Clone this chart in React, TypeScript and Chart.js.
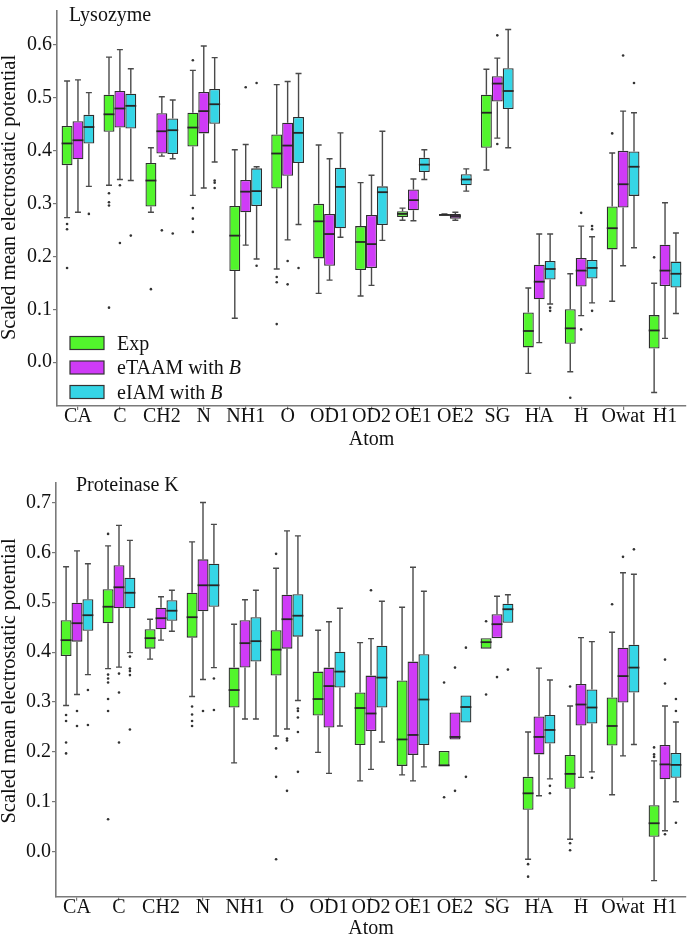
import { useEffect, useRef } from 'react';
import { Chart, registerables } from 'chart.js';

Chart.register(...registerables);

const atoms = ['CA', 'C', 'CH2', 'N', 'NH1', 'O', 'OD1', 'OD2', 'OE1', 'OE2', 'SG', 'HA', 'H', 'Owat', 'H1'];
const seriesNames = ['Exp', 'eTAAM with ', 'eIAM with '];
const fills = ['#52f52c', '#cf3bf7', '#35d5e6'];

// each box: [lower whisker, Q1, median, Q3, upper whisker]
const lysoExp = [
  [0.273, 0.372, 0.413, 0.446, 0.531], [0.334, 0.435, 0.468, 0.505, 0.576], [0.283, 0.294, 0.343, 0.376, 0.405],
  [0.315, 0.407, 0.443, 0.471, 0.551], [0.083, 0.172, 0.239, 0.295, 0.401], [0.176, 0.328, 0.394, 0.43, 0.524],
  [0.13, 0.196, 0.266, 0.299, 0.41], [0.125, 0.174, 0.227, 0.257, 0.339], [0.268, 0.274, 0.28, 0.285, 0.291],
  [0.277, 0.277, 0.278, 0.279, 0.28], [0.363, 0.405, 0.471, 0.505, 0.553], [-0.021, 0.028, 0.059, 0.094, 0.14],
  [-0.018, 0.035, 0.064, 0.1, 0.167], [0.115, 0.213, 0.253, 0.294, 0.395], [-0.057, 0.026, 0.06, 0.089, 0.149],
];
const lysoTaam = [
  [0.283, 0.383, 0.419, 0.455, 0.533], [0.345, 0.443, 0.479, 0.512, 0.59], [0.389, 0.394, 0.436, 0.47, 0.501],
  [0.329, 0.432, 0.474, 0.51, 0.597], [0.221, 0.283, 0.322, 0.344, 0.411], [0.231, 0.352, 0.409, 0.452, 0.53],
  [0.155, 0.182, 0.242, 0.28, 0.384], [0.145, 0.178, 0.223, 0.278, 0.353], [0.267, 0.287, 0.306, 0.326, 0.346],
  [0.268, 0.271, 0.276, 0.28, 0.283], [0.423, 0.492, 0.526, 0.54, 0.574], [0.037, 0.119, 0.152, 0.184, 0.242],
  [0.088, 0.143, 0.173, 0.197, 0.257], [0.182, 0.292, 0.336, 0.399, 0.474], [0.045, 0.144, 0.173, 0.222, 0.301],
];
const lysoIam = [
  [0.332, 0.413, 0.444, 0.467, 0.509], [0.343, 0.441, 0.484, 0.507, 0.554], [0.384, 0.393, 0.438, 0.46, 0.495],
  [0.378, 0.45, 0.487, 0.516, 0.575], [0.195, 0.295, 0.323, 0.366, 0.369], [0.26, 0.376, 0.433, 0.463, 0.545],
  [0.236, 0.253, 0.331, 0.367, 0.433], [0.23, 0.259, 0.321, 0.332, 0.436], [0.345, 0.359, 0.373, 0.386, 0.401],
  [0.323, 0.334, 0.345, 0.355, 0.365], [0.405, 0.478, 0.512, 0.555, 0.628], [0.11, 0.156, 0.176, 0.191, 0.242],
  [0.112, 0.158, 0.178, 0.193, 0.237], [0.216, 0.314, 0.369, 0.398, 0.471], [0.092, 0.141, 0.167, 0.19, 0.244],
];
const lysoExpOut = [
  [0.261, 0.251, 0.178], [0.319, 0.302, 0.296, 0.103], [0.138], [0.57, 0.291, 0.271, 0.246], [], [0.161, 0.151, 0.072],
  [], [], [], [], [], [], [-0.067], [0.432], [0.198],
];
const lysoTaamOut = [
  [], [0.334, 0.225], [0.249], [], [0.519], [0.191, 0.147], [], [], [], [], [0.617, 0.412], [], [0.282, 0.062], [0.579], [],
];
const lysoIamOut = [
  [0.28], [0.239], [0.243], [0.343, 0.339, 0.329], [0.527, 0.182], [0.178], [], [], [], [], [], [0.103, 0.097],
  [0.257, 0.251, 0.097], [0.527], [],
];

const protExp = [
  [0.293, 0.392, 0.424, 0.464, 0.571], [0.367, 0.458, 0.491, 0.526, 0.613], [0.386, 0.407, 0.428, 0.446, 0.466],
  [0.311, 0.429, 0.47, 0.519, 0.621], [0.178, 0.289, 0.324, 0.369, 0.456], [0.232, 0.353, 0.405, 0.444, 0.568],
  [0.199, 0.273, 0.306, 0.361, 0.444], [0.142, 0.214, 0.288, 0.319, 0.419], [0.154, 0.172, 0.225, 0.343, 0.49],
  [0.172, 0.172, 0.173, 0.202, 0.202], [0.407, 0.407, 0.42, 0.428, 0.428], [-0.015, 0.084, 0.117, 0.15, 0.24],
  [0.025, 0.126, 0.156, 0.194, 0.292], [0.114, 0.213, 0.252, 0.309, 0.44], [-0.058, 0.03, 0.057, 0.093, 0.182],
];
const protTaam = [
  [0.315, 0.421, 0.458, 0.499, 0.603], [0.37, 0.488, 0.53, 0.574, 0.654], [0.424, 0.446, 0.468, 0.489, 0.511],
  [0.345, 0.482, 0.534, 0.586, 0.7], [0.266, 0.369, 0.418, 0.464, 0.505], [0.246, 0.407, 0.466, 0.515, 0.643],
  [0.157, 0.249, 0.332, 0.369, 0.461], [0.165, 0.242, 0.277, 0.353, 0.427], [0.142, 0.194, 0.234, 0.381, 0.57],
  [0.225, 0.225, 0.23, 0.279, 0.279], [0.428, 0.428, 0.456, 0.476, 0.512], [0.112, 0.195, 0.23, 0.271, 0.368],
  [0.149, 0.253, 0.295, 0.336, 0.429], [0.192, 0.299, 0.352, 0.409, 0.559], [0.042, 0.145, 0.175, 0.214, 0.292],
];
const protIam = [
  [0.355, 0.443, 0.474, 0.506, 0.577], [0.399, 0.488, 0.519, 0.549, 0.624], [0.442, 0.463, 0.483, 0.504, 0.524],
  [0.369, 0.491, 0.534, 0.577, 0.656], [0.266, 0.381, 0.422, 0.47, 0.524], [0.303, 0.431, 0.473, 0.516, 0.633],
  [0.252, 0.329, 0.361, 0.401, 0.488], [0.22, 0.289, 0.349, 0.413, 0.502], [0.17, 0.214, 0.305, 0.396, 0.522],
  [0.259, 0.259, 0.29, 0.313, 0.313], [0.459, 0.459, 0.486, 0.497, 0.515], [0.146, 0.217, 0.244, 0.274, 0.344],
  [0.16, 0.257, 0.289, 0.325, 0.421], [0.215, 0.319, 0.369, 0.415, 0.556], [0.1, 0.148, 0.174, 0.198, 0.26],
];
const protExpOut = [
  [0.274, 0.262, 0.219, 0.197], [0.637, 0.355, 0.347, 0.339, 0.306, 0.282, 0.065], [], [0.291, 0.275, 0.262, 0.252], [],
  [0.597, 0.207, 0.15, -0.015], [], [], [], [0.339, 0.109], [0.462, 0.315], [-0.025, -0.05], [0.331, 0.017, 0.003],
  [0.496], [0.209, 0.195, 0.19],
];
const protTaamOut = [
  [0.282, 0.252], [0.357, 0.319, 0.219], [], [0.282], [], [0.227, 0.223, 0.122], [], [0.524], [], [0.369, 0.122],
  [0.35], [], [], [0.591], [0.385, 0.337, 0.035],
];
const protIamOut = [
  [0.324, 0.254], [0.391, 0.367, 0.362, 0.354, 0.245], [], [0.347, 0.284], [], [0.287, 0.282, 0.269, 0.24, 0.16],
  [], [], [], [0.409, 0.15], [0.365], [0.132, 0.117], [0.148], [0.606], [0.306, 0.282, 0.058],
];

const FONT = "'Liberation Serif', 'Times New Roman', serif";
const Y_TITLE = 'Scaled mean electrostatic potential';

type PanelProps = {
  title: string;
  titleX: number;
  titleY: number;
  yTitleCenter: number;
  boxes: number[][][];
  outliers: number[][][];
  yMin: number;
  yMax: number;
  height: number;
  areaTop: number;
  areaBottom: number;
  axisLeft: number;
  xTitlePad: number;
  legend: boolean;
};

function Panel(p: PanelProps) {
  const canvasRef = useRef<HTMLCanvasElement>(null);

  useEffect(() => {
    if (!canvasRef.current) return;

    const boxPlugin = {
      id: 'boxes',
      beforeDatasetsDraw(chart: any) {
        const ctx = chart.ctx;
        const ys = chart.scales.y;
        ctx.save();
        ctx.strokeStyle = '#4a4a4a';
        ctx.lineWidth = 1.4;
        p.boxes.forEach((series, si) => {
          const meta = chart.getDatasetMeta(si);
          series.forEach((b, i) => {
            const x = meta.data[i].x;
            const [lo, q1, , q3, hi] = b;
            ctx.beginPath();
            if (hi > q3) {
              ctx.moveTo(x, ys.getPixelForValue(q3));
              ctx.lineTo(x, ys.getPixelForValue(hi));
              ctx.moveTo(x - 3, ys.getPixelForValue(hi));
              ctx.lineTo(x + 3, ys.getPixelForValue(hi));
            }
            if (lo < q1) {
              ctx.moveTo(x, ys.getPixelForValue(q1));
              ctx.lineTo(x, ys.getPixelForValue(lo));
              ctx.moveTo(x - 3, ys.getPixelForValue(lo));
              ctx.lineTo(x + 3, ys.getPixelForValue(lo));
            }
            ctx.stroke();
          });
        });
        ctx.restore();
      },
      afterDatasetsDraw(chart: any) {
        const ctx = chart.ctx;
        const ys = chart.scales.y;
        ctx.save();
        p.boxes.forEach((series, si) => {
          const meta = chart.getDatasetMeta(si);
          series.forEach((b, i) => {
            const el = meta.data[i];
            const ym = ys.getPixelForValue(b[2]);
            ctx.strokeStyle = '#262626';
            ctx.lineWidth = 1.8;
            ctx.beginPath();
            ctx.moveTo(el.x - el.width / 2, ym);
            ctx.lineTo(el.x + el.width / 2, ym);
            ctx.stroke();
            ctx.fillStyle = '#333';
            p.outliers[si][i].forEach((v) => {
              ctx.beginPath();
              ctx.arc(el.x, ys.getPixelForValue(v), 1.3, 0, Math.PI * 2);
              ctx.fill();
            });
          });
        });

        ctx.fillStyle = '#111';
        ctx.font = `20px ${FONT}`;
        ctx.textBaseline = 'alphabetic';
        ctx.textAlign = 'left';
        ctx.fillText(p.title, p.titleX, p.titleY);

        // y axis title, rotated
        ctx.save();
        ctx.translate(10, p.yTitleCenter);
        ctx.rotate(-Math.PI / 2);
        ctx.textAlign = 'center';
        ctx.textBaseline = 'middle';
        ctx.font = `20.5px ${FONT}`;
        ctx.fillText(Y_TITLE, 0, 0);
        ctx.restore();

        if (p.legend) {
          seriesNames.forEach((name, i) => {
            const base = 349.5 + i * 24.5;
            ctx.fillStyle = fills[i];
            ctx.strokeStyle = '#333';
            ctx.lineWidth = 1.2;
            ctx.fillRect(70, base - 13, 34, 13);
            ctx.strokeRect(70, base - 13, 34, 13);
            ctx.fillStyle = '#111';
            ctx.font = `20px ${FONT}`;
            ctx.fillText(name, 117, base);
            if (i > 0) {
              const w = ctx.measureText(name).width;
              ctx.font = `italic 20px ${FONT}`;
              ctx.fillText('B', 117 + w, base);
            }
          });
        }
        ctx.restore();
      },
    };

    const chart = new Chart(canvasRef.current, {
      type: 'bar',
      data: {
        labels: atoms,
        datasets: p.boxes.map((series, si) => ({
          label: seriesNames[si],
          data: series.map((b) => [b[1], b[3]]),
          backgroundColor: fills[si],
          borderColor: '#2e2e2e',
          borderWidth: 1.3,
          borderSkipped: false,
          categoryPercentage: 0.78,
          barPercentage: 1,
        })) as any,
      },
      options: {
        animation: false,
        responsive: true,
        maintainAspectRatio: false,
        layout: { padding: { top: p.areaTop, right: 6, left: 0, bottom: 0 } },
        plugins: { legend: { display: false }, tooltip: { enabled: false } },
        scales: {
          x: {
            afterFit: (s: any) => {
              s.height = p.height - p.areaBottom;
            },
            grid: { display: true, drawOnChartArea: false, offset: false, tickLength: 4, color: '#777', lineWidth: 1.2 },
            border: { display: true, color: '#7a7a7a', width: 1.6 },
            ticks: {
              autoSkip: false,
              maxRotation: 0,
              minRotation: 0,
              padding: -3,
              color: '#111',
              font: { family: FONT, size: 20, lineHeight: 1 },
            },
            title: {
              display: true,
              text: 'Atom',
              color: '#111',
              font: { family: FONT, size: 20, lineHeight: 1 },
              padding: { top: 0, bottom: p.xTitlePad },
            },
          },
          y: {
            min: p.yMin,
            max: p.yMax,
            afterFit: (s: any) => {
              s.width = p.axisLeft;
            },
            grid: { display: true, drawOnChartArea: false, tickLength: 4, color: '#777', lineWidth: 1.2 },
            border: { display: true, color: '#7a7a7a', width: 1.6 },
            ticks: {
              stepSize: 0.1,
              includeBounds: false,
              padding: 1,
              color: '#111',
              font: { family: FONT, size: 20, lineHeight: 1 },
              callback: (v: any) => (Math.abs(Number(v)) < 1e-9 ? 0 : Number(v)).toFixed(1),
            },
          },
        },
      },
      plugins: [boxPlugin as any],
    });

    return () => {
      chart.destroy();
    };
  }, []);

  return <canvas ref={canvasRef} />;
}

export default function App() {
  return (
    <div style={{ position: 'absolute', left: 0, top: 0, width: 692, height: 939, background: '#fff' }}>
      <div style={{ position: 'absolute', left: 0, top: 0, width: 692, height: 460 }}>
        <Panel
          title="Lysozyme"
          titleX={69}
          titleY={21}
          yTitleCenter={197.5}
          boxes={[lysoExp, lysoTaam, lysoIam]}
          outliers={[lysoExpOut, lysoTaamOut, lysoIamOut]}
          yMin={-0.0826}
          yMax={0.663}
          height={460}
          areaTop={0}
          areaBottom={406}
          axisLeft={57}
          xTitlePad={10}
          legend={true}
        />
      </div>
      <div style={{ position: 'absolute', left: 0, top: 460, width: 692, height: 479 }}>
        <Panel
          title="Proteinase K"
          titleX={76}
          titleY={30.7}
          yTitleCenter={221}
          boxes={[protExp, protTaam, protIam]}
          outliers={[protExpOut, protTaamOut, protIamOut]}
          yMin={-0.0902}
          yMax={0.739}
          height={479}
          areaTop={23}
          areaBottom={436.7}
          axisLeft={56}
          xTitlePad={0}
          legend={false}
        />
      </div>
    </div>
  );
}
